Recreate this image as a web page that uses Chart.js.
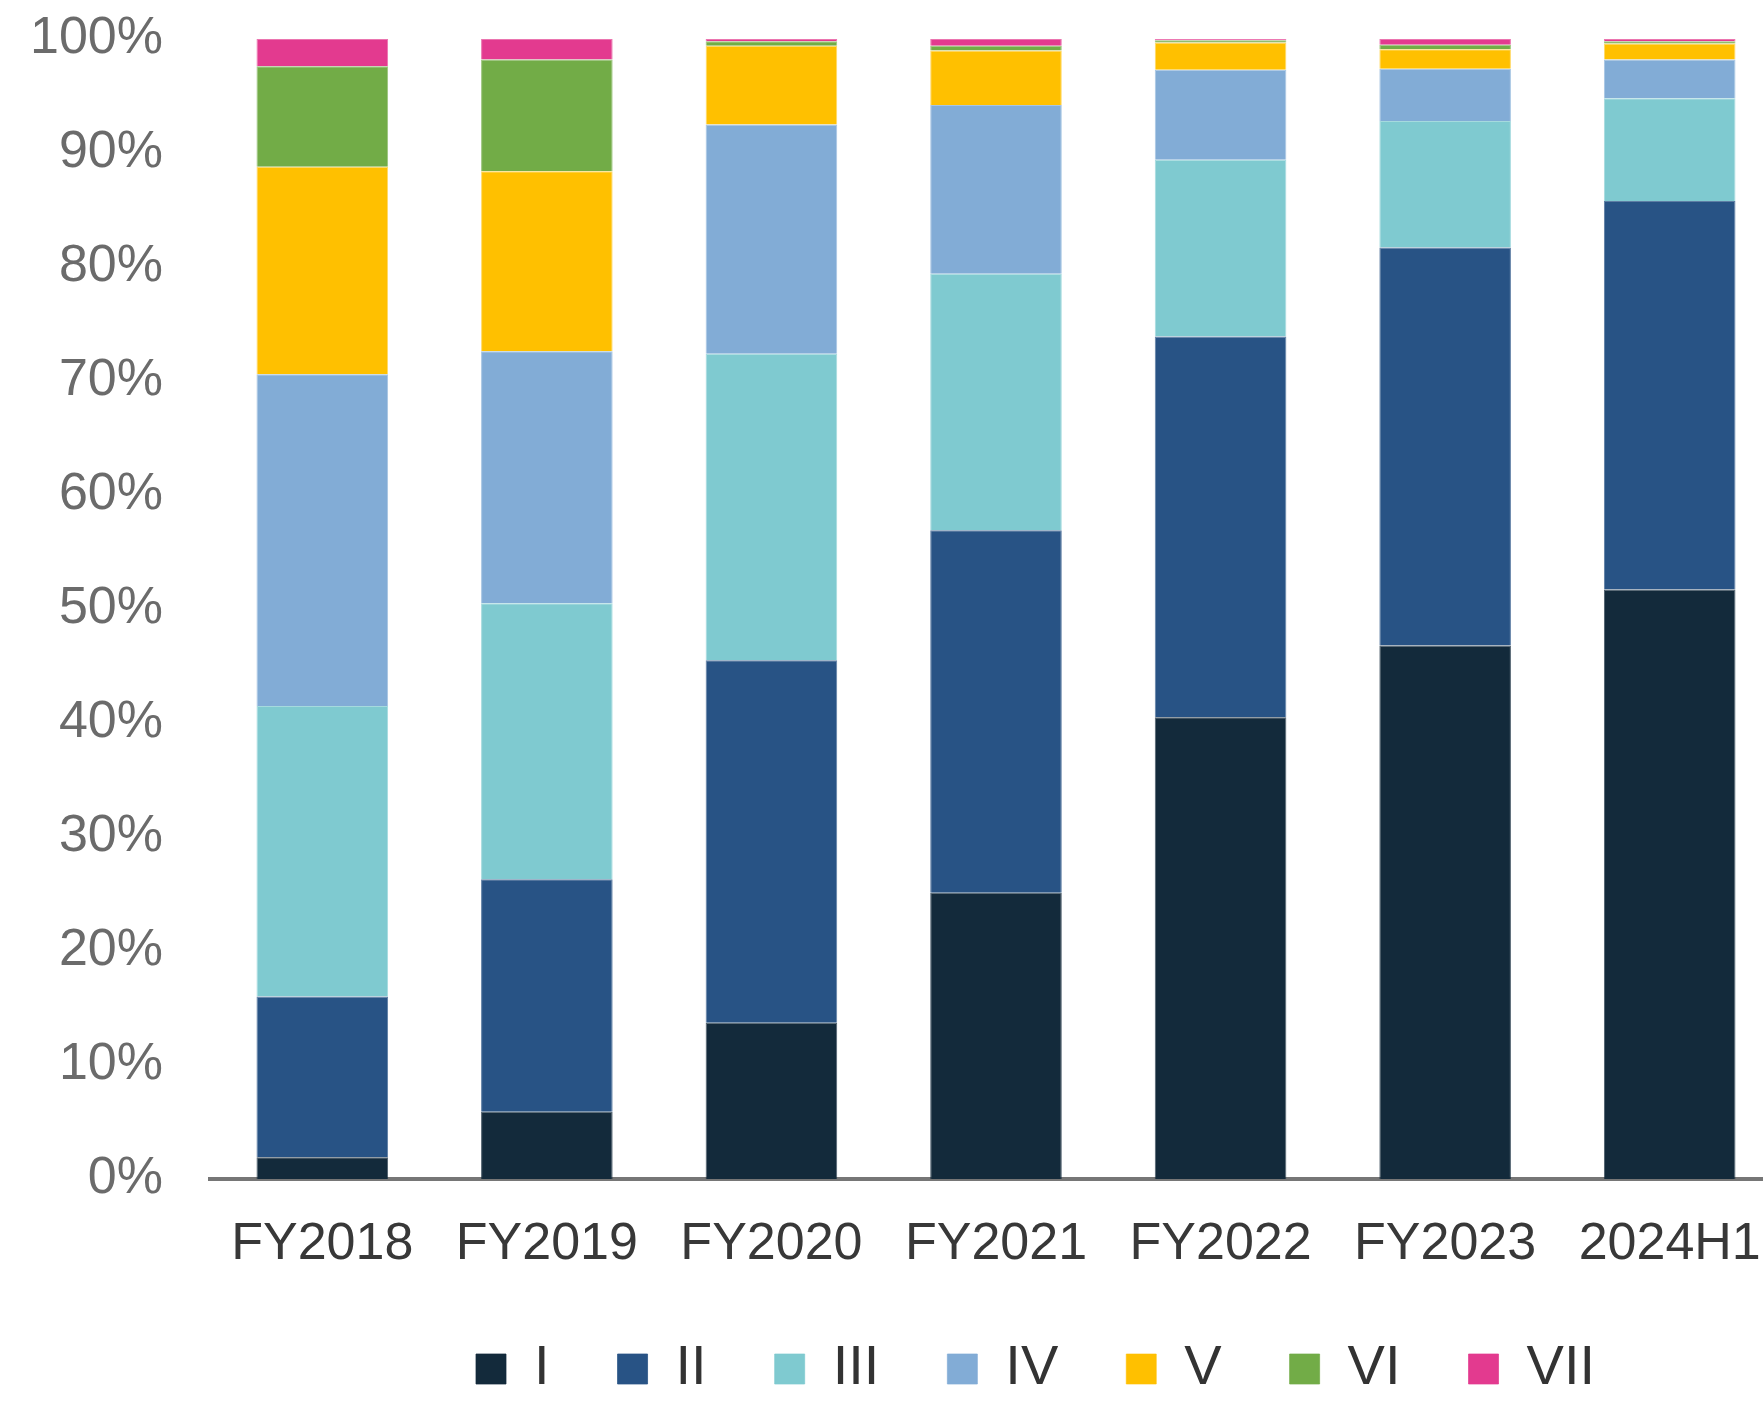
<!DOCTYPE html>
<html>
<head>
<meta charset="utf-8">
<script src="https://cdn.jsdelivr.net/npm/chart.js@4.4.1/dist/chart.umd.min.js"></script>
<style>
  html, body { margin: 0; padding: 0; background: #ffffff; overflow: hidden; }
  #wrap { width: 1782px; height: 1415px; }
</style>
</head>
<body>
<div id="wrap"><canvas id="c" width="1782" height="1415"></canvas></div>
<script>
// Share of each grade per period (%)
const categories = ['FY2018', 'FY2019', 'FY2020', 'FY2021', 'FY2022', 'FY2023', '2024H1'];
const seriesNames = ['I', 'II', 'III', 'IV', 'V', 'VI', 'VII'];
const gradeI   = [1.9, 5.9, 13.7, 25.1, 40.5, 46.8, 51.7];
const gradeII  = [14.1, 20.4, 31.8, 31.8, 33.4, 34.9, 34.1];
const gradeIII = [25.5, 24.2, 26.9, 22.5, 15.5, 11.1, 9.0];
const gradeIV  = [29.1, 22.1, 20.1, 14.8, 7.9, 4.6, 3.4];
const gradeV   = [18.2, 15.8, 6.9, 4.8, 2.4, 1.7, 1.4];
const gradeVI  = [8.8, 9.8, 0.4, 0.4, 0.2, 0.4, 0.2];
const gradeVII = [2.4, 1.8, 0.2, 0.6, 0.1, 0.5, 0.2];
const yTicks = [0, 10, 20, 30, 40, 50, 60, 70, 80, 90, 100];

const seriesValues = [gradeI, gradeII, gradeIII, gradeIV, gradeV, gradeVI, gradeVII];
const colors = ['#132a3b', '#285385', '#7fcad0', '#82acd6', '#ffc000', '#72ac47', '#e33a8f'];
const edge = ['rgba(19,42,59,0.75)', 'rgba(40,83,133,0.75)', 'rgba(127,202,208,0.7)',
              'rgba(130,172,214,0.7)', 'rgba(255,192,0,0.6)', 'rgba(114,172,71,0.7)', 'rgba(227,58,143,0.7)'];

const FONT = '"Liberation Sans", Arial, Helvetica, sans-serif';

const datasets = seriesNames.map((name, i) => ({
  label: name,
  data: seriesValues[i],
  backgroundColor: colors[i],
  borderColor: edge[i],
  borderWidth: 1,
  categoryPercentage: 1.0,
  barPercentage: 0.586
}));

// Places the legend row under the plot
const legendPlacement = {
  id: 'legendPlacement',
  afterLayout(chart) {
    const lg = chart.legend;
    if (!lg) return;
    const h = lg.height;
    lg.left = 408;
    lg.right = 1782;
    lg.top = 1273;
    lg.bottom = 1273 + h;
  }
};

new Chart(document.getElementById('c'), {
  type: 'bar',
  data: { labels: categories, datasets },
  plugins: [legendPlacement],
  options: {
    responsive: false,
    animation: false,
    devicePixelRatio: 1,
    layout: { padding: { top: 0, left: 0, right: 0, bottom: 0 } },
    plugins: {
      tooltip: { enabled: false },
      legend: {
        position: 'bottom',
        align: 'start',
        labels: {
          boxWidth: 30,
          boxHeight: 30,
          padding: 68,
          color: '#333333',
          font: { family: FONT, size: 56 }
        }
      }
    },
    scales: {
      x: {
        stacked: true,
        z: 1,
        grid: { display: false, drawTicks: false },
        border: { display: true, color: '#767676', width: 4 },
        ticks: { color: '#383838', padding: 34, font: { family: FONT, size: 52 }, maxRotation: 0, autoSkip: false },
        afterFit(scale) {
          scale.height = 102;
          scale.paddingLeft = 0;
          scale.paddingRight = 0;
        }
      },
      y: {
        stacked: true,
        min: 0,
        max: 100,
        grid: { display: false, drawTicks: false },
        border: { display: false },
        afterBuildTicks(scale) { scale.ticks = yTicks.map(v => ({ value: v })); },
        ticks: {
          color: '#6b6b6b',
          padding: 47,
          font: { family: FONT, size: 52 },
          callback: v => v + '%'
        },
        afterFit(scale) {
          scale.width = 210;
          scale.paddingTop = 39;
          scale.paddingBottom = 0;
        }
      }
    }
  }
});
</script>
</body>
</html>
